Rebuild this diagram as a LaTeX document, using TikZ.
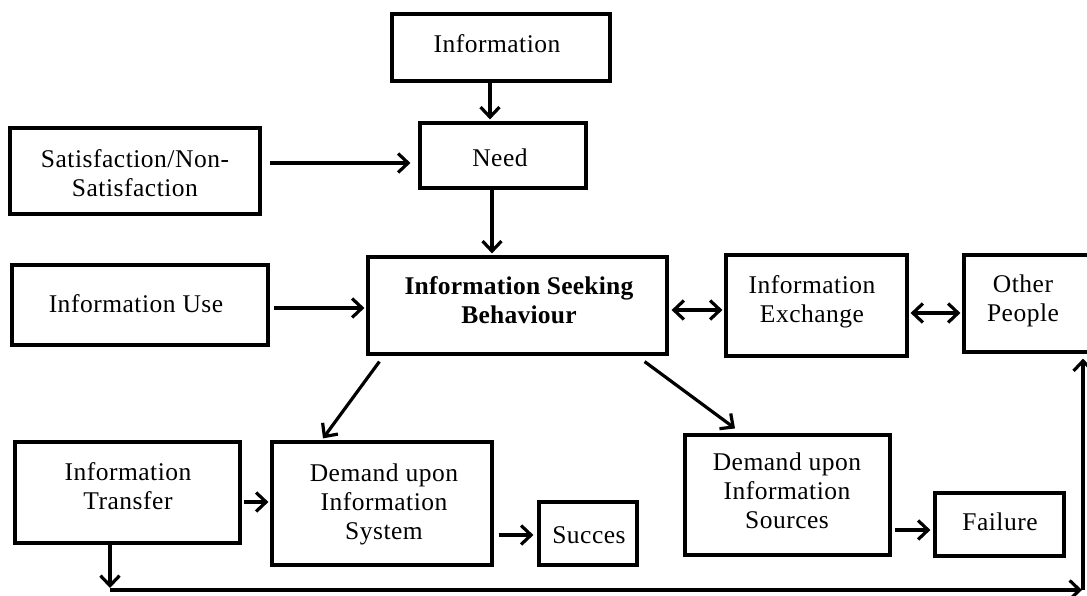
\documentclass[tikz,border=0pt]{standalone}
\usepackage{fontspec}
\setmainfont{Liberation Serif}
\usetikzlibrary{arrows.meta,calc}

\tikzset{
  box/.style={draw=black, line width=3.2pt, fill=white, inner sep=0pt, rectangle},
  txt/.style={inner sep=0pt, align=center, font=\fontsize{25.5}{29}\selectfont\addfontfeature{LetterSpace=2}},
  btxt/.style={inner sep=0pt, align=center, font=\fontsize{25.5}{29}\selectfont\bfseries\addfontfeature{LetterSpace=1}},
  tip/.tip={Straight Barb[length=10pt,width=19pt]},
  arr/.style={line width=3.2pt, -tip},
  darr/.style={line width=3.2pt, tip-tip}
}

% box from its corners: name, x1, y1, x2, y2
\newcommand{\mkbox}[5]{%
  \node[box, minimum width={(#4-#2)*1pt}, minimum height={(#5-#3)*1pt}]
    (#1) at ({(#2+#4)/2},{(#3+#5)/2}) {};}

\begin{document}
\begin{tikzpicture}[x=1pt, y=-1pt]
\useasboundingbox (0,0) rectangle (1087,595);
\clip (0,0) rectangle (1087,595);

% boxes
\mkbox{info}{392}{14}{610}{81}
\mkbox{need}{420}{123}{586}{188}
\mkbox{sat}{10}{128}{260}{214}
\mkbox{use}{12}{265}{268}{345}
\mkbox{isb}{368}{257}{667}{354}
\mkbox{exch}{726}{255}{907}{356}
\mkbox{other}{964}{255}{1102}{352}
\mkbox{trans}{15}{442}{240}{543}
\mkbox{sys}{272}{442}{492}{565}
\mkbox{succ}{539}{502}{637}{565}
\mkbox{src}{685}{435}{890}{555}
\mkbox{fail}{935}{493}{1064}{556}

% labels
\node[txt] (info-t)  at (497,44)  {Information};
\node[txt] (need-t)  at (500,158) {Need};
\node[txt] (sat-t)   at (135,173) {Satisfaction/Non-\\Satisfaction};
\node[txt] (use-t)   at (136,304) {Information Use};
\node[btxt] (isb-t)  at (519,300) {Information Seeking\\Behaviour};
\node[txt] (exch-t)  at (812,301.5) {Information\\Exchange};
\node[txt] (other-t) at (1023,300.5) {Other\\People};
\node[txt] (trans-t) at (128,486) {Information\\Transfer};
\node[txt] (sys-t)   at (384,504) {Demand upon\\Information\\System};
\node[txt] (succ-t)  at (589,535.5) {Succes};
\node[txt] (src-t)   at (787,490.5) {Demand upon\\Information\\Sources};
\node[txt] (fail-t)  at (1000,522) {Failure};

% connectors
\draw[arr]  ($(info.south)+(-11,0)$)       -- ($(need.north)+(-13,-2)$);
\draw[arr]  ($(sat.east)+(8,-8)$)          -- ($(need.west)+(-8,7.5)$);
\draw[arr]  ($(need.south)+(-11,0)$)       -- ($(isb.north)+(-25.5,-2)$);
\draw[arr]  ($(use.east)+(4,3)$)           -- ($(isb.west)+(-2,2.5)$);
\draw[darr] ($(isb.east)+(3,4.5)$)         -- ($(exch.west)+(-2,4.5)$);
\draw[darr] ($(exch.east)+(2,7.5)$)        -- ($(other.west)+(-2,9.5)$);
\draw[arr]  ($(isb.south west)+(13,6)$)    -- ($(sys.north)+(-59,-2)$);
\draw[arr]  ($(isb.south east)+(-24,6)$)   -- ($(src.north)+(-52.5,-5)$);
\draw[arr]  ($(trans.east)+(2,9.5)$)       -- ($(sys.west)+(-2,-1.5)$);
\draw[arr]  ($(sys.east)+(5,31.5)$)        -- ($(succ.west)+(-4,1.5)$);
\draw[arr]  ($(src.east)+(3,35)$)          -- ($(fail.west)+(-3,5.5)$);

% return path from Information Transfer round to Other People
\coordinate (low)  at (110,590);
\coordinate (turn) at (1083,590);
\coordinate (foot) at ($(other.south)+(0,5)$);
\draw[arr] ($(trans.south)+(-17.5,0)$) -- ($(low)+(0,-2)$);
\draw[arr] (low) -- ($(turn)+(-1,0)$);
\draw[arr] (turn) -- (turn |- foot);
\end{tikzpicture}
\end{document}
